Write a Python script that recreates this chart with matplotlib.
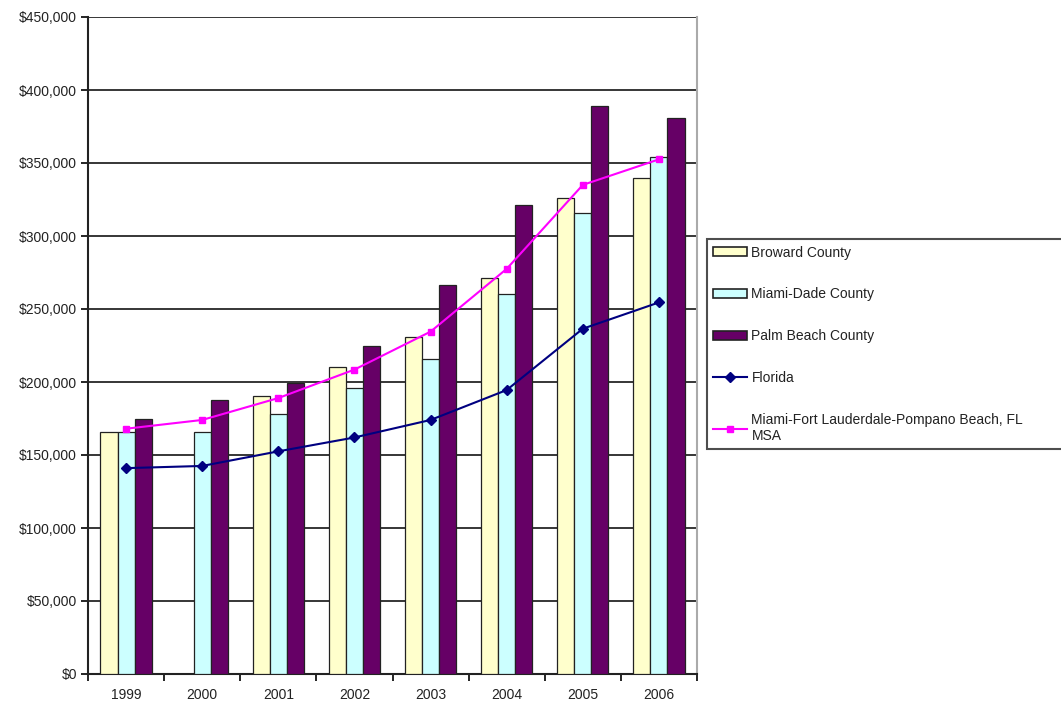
import numpy as np
import matplotlib.pyplot as plt
from matplotlib.ticker import FuncFormatter, FixedLocator
from matplotlib.patches import Patch
from matplotlib.lines import Line2D

plt.rcParams['font.family'] = ['Liberation Sans', 'DejaVu Sans']

years = ['1999', '2000', '2001', '2002', '2003', '2004', '2005', '2006']
broward = [165500, np.nan, 190500, 210000, 231000, 271000, 326000, 339500]
miami_dade = [165500, 165500, 178000, 196000, 216000, 260000, 315500, 354000]
palm_beach = [174500, 188000, 199000, 224500, 266500, 321000, 389000, 381000]
florida = [141000, 142500, 152500, 162000, 174000, 194500, 236500, 254500]
msa = [168000, 174000, 189000, 208500, 234500, 277500, 335000, 352500]

bar_series = [('Broward County', broward, '#FFFFCC'),
              ('Miami-Dade County', miami_dade, '#CCFFFF'),
              ('Palm Beach County', palm_beach, '#660066')]

fig = plt.figure(figsize=(10.61, 7.07), dpi=100)
ax = fig.add_axes([88 / 1061, 33 / 707, 609 / 1061, 657 / 707])

x = np.arange(len(years))
w = 0.224
for i, (name, vals, col) in enumerate(bar_series):
    ax.bar(x + (i - 1) * w, vals, w, color=col, edgecolor='#222222',
           linewidth=0.9, zorder=3)

ax.plot(x, florida, color='#000080', marker='D', markersize=5,
        linewidth=1.5, zorder=4)
ax.plot(x, msa, color='#FF00FF', marker='s', markersize=5,
        linewidth=1.5, zorder=4)

ax.set_xlim(-0.5, len(years) - 0.5)
ax.set_ylim(0, 450000)
ax.set_yticks(np.arange(0, 450001, 50000))
ax.yaxis.set_major_formatter(FuncFormatter(lambda v, p: '${:,.0f}'.format(v)))
ax.grid(axis='y', color='black', linewidth=1.1, zorder=0)

ax.set_xticks(x)
ax.set_xticklabels(years)
ax.xaxis.set_minor_locator(FixedLocator(np.arange(-0.5, len(years), 1)))
ax.tick_params(axis='x', which='major', length=0, pad=10, labelsize=10,
               labelcolor='#222222')
ax.tick_params(axis='x', which='minor', length=5, width=1.2, direction='out')
ax.tick_params(axis='y', length=5, width=1.2, direction='out', labelsize=10,
               labelcolor='#222222', pad=3)

for s in ['left', 'bottom']:
    ax.spines[s].set_color('#222222')
    ax.spines[s].set_linewidth(1.5)
ax.spines['top'].set_visible(False)
ax.spines['right'].set_color('#AAAAAA')
ax.spines['right'].set_linewidth(1.5)

handles = [Patch(facecolor=c, edgecolor='#222222', linewidth=1.2)
           for _, _, c in bar_series]
handles.append(Line2D([], [], color='#000080', marker='D', markersize=5,
                      linewidth=1.5))
handles.append(Line2D([], [], color='#FF00FF', marker='s', markersize=5,
                      linewidth=1.5))
labels = [n for n, _, _ in bar_series] + \
    ['Florida', 'Miami-Fort Lauderdale-Pompano Beach, FL\nMSA']

# legend runs off the right edge like in the original
leg = fig.legend(handles, labels, loc='upper left', mode='expand',
                 bbox_to_anchor=(707 / 1061, 1 - 240 / 707, 362 / 1061, 0.001),
                 fontsize=10, frameon=True, fancybox=False,
                 labelspacing=2.0, handlelength=2.4, handleheight=0.6,
                 handletextpad=0.35, borderpad=0.45, borderaxespad=0)
leg.get_frame().set_edgecolor('#222222')
leg.get_frame().set_linewidth(1.5)
for t in leg.get_texts():
    t.set_color('#222222')

fig.savefig('out.png', dpi=100)
